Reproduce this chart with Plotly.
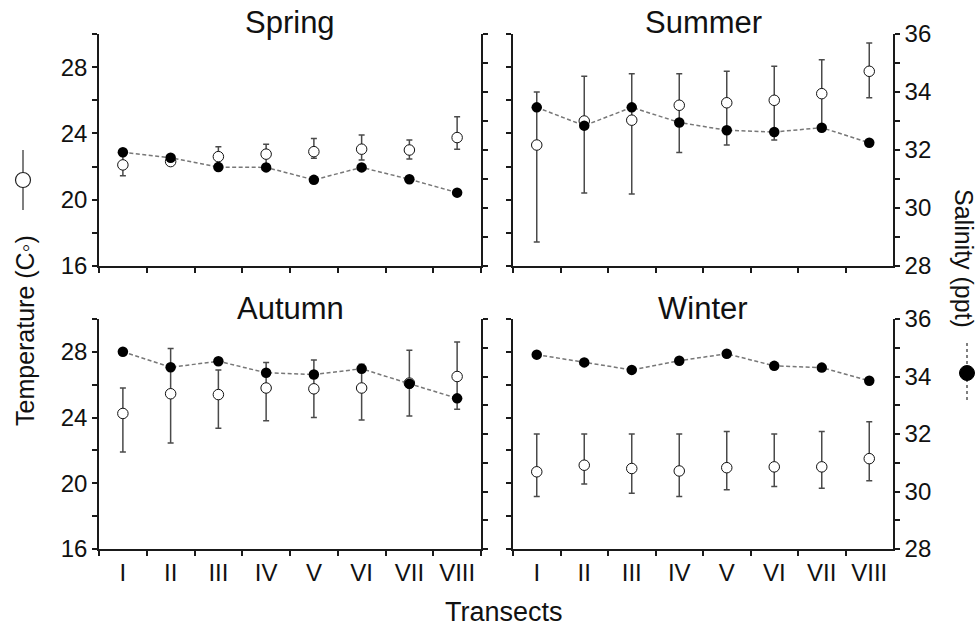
import plotly.graph_objects as go
import numpy as np

W, H = 977, 630

transects = ["I", "II", "III", "IV", "V", "VI", "VII", "VIII"]
seasons = ["Spring", "Summer", "Autumn", "Winter"]

# Temperature (°C): mean, upper and lower error-bar ends
spring_temp = [22.1, 22.3, 22.6, 22.75, 22.9, 23.05, 23.0, 23.75]
spring_temp_hi = [22.7, 22.5, 23.2, 23.35, 23.7, 23.9, 23.6, 25.0]
spring_temp_lo = [21.45, 22.1, 22.0, 22.15, 22.5, 22.4, 22.45, 23.05]

summer_temp = [23.3, 24.75, 24.8, 25.7, 25.85, 26.0, 26.4, 27.75]
summer_temp_hi = [26.5, 27.45, 27.6, 27.6, 27.75, 28.05, 28.45, 29.45]
summer_temp_lo = [17.45, 20.4, 20.35, 22.85, 23.3, 23.6, 24.4, 26.15]

autumn_temp = [24.25, 25.45, 25.4, 25.8, 25.75, 25.8, 26.1, 26.5]
autumn_temp_hi = [25.8, 28.2, 26.9, 27.35, 27.5, 27.25, 28.1, 28.6]
autumn_temp_lo = [21.9, 22.45, 23.35, 23.8, 24.0, 23.85, 24.1, 24.5]

winter_temp = [20.7, 21.1, 20.9, 20.75, 20.95, 21.0, 21.0, 21.5]
winter_temp_hi = [23.0, 23.0, 23.0, 23.0, 23.15, 23.0, 23.15, 23.75]
winter_temp_lo = [19.2, 19.95, 19.4, 19.2, 19.6, 19.8, 19.7, 20.15]

# Salinity (ppt)
spring_sal = [31.92, 31.73, 31.41, 31.40, 30.97, 31.40, 30.99, 30.53]
summer_sal = [33.47, 32.84, 33.47, 32.95, 32.68, 32.62, 32.77, 32.25]
autumn_sal = [34.86, 34.32, 34.53, 34.13, 34.07, 34.27, 33.75, 33.24]
winter_sal = [34.76, 34.49, 34.23, 34.55, 34.79, 34.37, 34.31, 33.85]

temp_ticks = [16, 20, 24, 28]
sal_ticks = [28, 30, 32, 34, 36]
temp_range = [16, 30]
sal_range = [28, 36]

FONT = "Liberation Sans, Arial, sans-serif"
AX = "#1a1a1a"
TICKFONT = dict(family=FONT, size=24, color="#111")


def px(x):
    return x / W


def py(y):
    return 1 - y / H


panels = [
    dict(title=seasons[0], temp=spring_temp, hi=spring_temp_hi, lo=spring_temp_lo, sal=spring_sal,
         xs=(99, 481), ys=(34, 266), xlab=False, tlab=True, slab=False),
    dict(title=seasons[1], temp=summer_temp, hi=summer_temp_hi, lo=summer_temp_lo, sal=summer_sal,
         xs=(513, 893), ys=(34, 266), xlab=False, tlab=False, slab=True),
    dict(title=seasons[2], temp=autumn_temp, hi=autumn_temp_hi, lo=autumn_temp_lo, sal=autumn_sal,
         xs=(99, 481), ys=(319, 549), xlab=True, tlab=True, slab=False),
    dict(title=seasons[3], temp=winter_temp, hi=winter_temp_hi, lo=winter_temp_lo, sal=winter_sal,
         xs=(513, 893), ys=(319, 549), xlab=True, tlab=False, slab=True),
]

fig = go.Figure()
layout = dict()
annotations = []

for i, p in enumerate(panels):
    n = i + 1
    xname = "x" if n == 1 else f"x{n}"
    yt = 2 * n - 1
    ys_ = 2 * n
    ytname = "y" if yt == 1 else f"y{yt}"
    ysname = f"y{ys_}"

    t = np.array(p["temp"])
    hi = np.array(p["hi"])
    lo = np.array(p["lo"])

    fig.add_trace(go.Scatter(
        x=transects, y=t, mode="markers",
        marker=dict(symbol="circle", size=10.5, color="white", line=dict(color="#111", width=1)),
        error_y=dict(type="data", symmetric=False, array=hi - t, arrayminus=t - lo,
                     color="#4a4a4a", thickness=1.5, width=3),
        xaxis=xname, yaxis=ytname, showlegend=False, cliponaxis=False))
    fig.add_trace(go.Scatter(
        x=transects, y=p["sal"], mode="lines+markers",
        line=dict(color="#777", width=1.5, dash="4px,2.5px"),
        marker=dict(symbol="circle", size=10.5, color="black"),
        xaxis=xname, yaxis=ysname, showlegend=False, cliponaxis=False))

    xdom = [px(p["xs"][0]), px(p["xs"][1])]
    ydom = [py(p["ys"][1]), py(p["ys"][0])]

    layout["xaxis" if n == 1 else f"xaxis{n}"] = dict(
        domain=xdom, anchor=ytname, type="category", automargin=False,
        categoryorder="array", categoryarray=transects, range=[-0.5, 7.5],
        tickson="boundaries", ticks="outside", ticklen=5, tickwidth=1.5, tickcolor=AX,
        ticklabelstandoff=1,
        showline=True, linecolor=AX, linewidth=1.5, showgrid=False, zeroline=False,
        showticklabels=p["xlab"], tickfont=TICKFONT)
    layout["yaxis" if yt == 1 else f"yaxis{yt}"] = dict(
        domain=ydom, anchor=xname, side="left", range=temp_range, automargin=False,
        tickmode="array", tickvals=temp_ticks, ticks="outside", ticklen=5, tickwidth=1.5,
        tickcolor=AX, minor=dict(dtick=2, tick0=16, ticks="outside", ticklen=5,
                                 tickwidth=1.5, tickcolor=AX),
        showline=True, linecolor=AX, linewidth=1.5, showgrid=False, zeroline=False,
        showticklabels=p["tlab"], tickfont=TICKFONT)
    layout[f"yaxis{ys_}"] = dict(
        overlaying=ytname, anchor=xname, side="right", range=sal_range, automargin=False,
        tickmode="array", tickvals=sal_ticks, ticks="outside", ticklen=5, tickwidth=1.5,
        tickcolor=AX, minor=dict(dtick=1, tick0=28, ticks="outside", ticklen=5,
                                 tickwidth=1.5, tickcolor=AX),
        showline=True, linecolor=AX, linewidth=1.5, showgrid=False, zeroline=False,
        showticklabels=p["slab"], tickfont=TICKFONT)

    annotations.append(dict(
        text=p["title"], xref="paper", yref="paper",
        x=px((p["xs"][0] + p["xs"][1]) / 2), y=py(p["ys"][0] - 11),
        xanchor="center", yanchor="middle", showarrow=False,
        font=dict(family=FONT, size=31, color="#111")))

annotations.append(dict(text="Transects", xref="paper", yref="paper",
                        x=px(504), y=py(612), xanchor="center", yanchor="middle",
                        showarrow=False, font=dict(family=FONT, size=27, color="#111")))
annotations.append(dict(text="Temperature (C◦)", xref="paper", yref="paper",
                        x=px(25), y=py(331), xanchor="center", yanchor="middle",
                        textangle=-90, showarrow=False,
                        font=dict(family=FONT, size=25, color="#111")))
annotations.append(dict(text="Salinity (ppt)", xref="paper", yref="paper",
                        x=px(964), y=py(258), xanchor="center", yanchor="middle",
                        textangle=90, showarrow=False,
                        font=dict(family=FONT, size=25, color="#111")))

# symbol keys beside the axis titles
shapes = [
    dict(type="line", xref="paper", yref="paper", x0=px(23), x1=px(23), y0=py(150), y1=py(210),
         line=dict(color="#555", width=1.5)),
    dict(type="circle", xref="paper", yref="paper", x0=px(15.5), x1=px(30.5), y0=py(187.5), y1=py(172.5),
         fillcolor="white", line=dict(color="#222", width=1.2)),
    dict(type="line", xref="paper", yref="paper", x0=px(967), x1=px(967), y0=py(343), y1=py(403),
         line=dict(color="#555", width=1.5, dash="dot")),
    dict(type="circle", xref="paper", yref="paper", x0=px(959.5), x1=px(974.5), y0=py(380.5), y1=py(365.5),
         fillcolor="black", line=dict(color="black", width=1)),
]

fig.update_layout(
    width=W, height=H, margin=dict(l=0, r=0, t=0, b=0, pad=0, autoexpand=False),
    paper_bgcolor="white", plot_bgcolor="white",
    font=dict(family=FONT, color="#111"),
    annotations=annotations, shapes=shapes, showlegend=False,
    **layout)

fig.write_html("out.html")
